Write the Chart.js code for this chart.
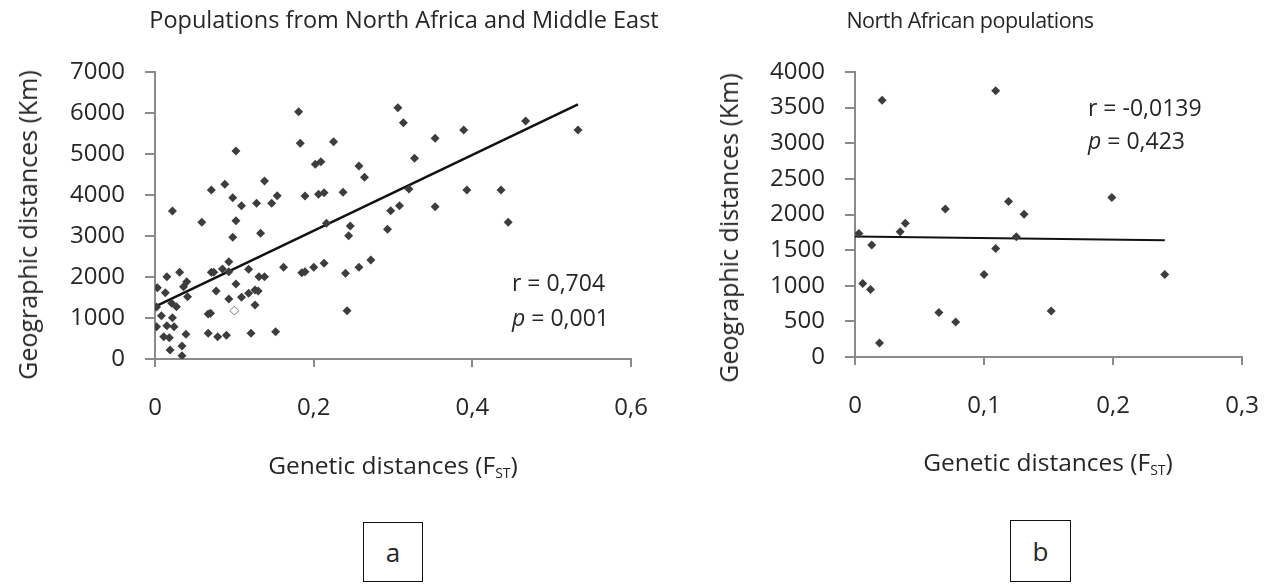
<!DOCTYPE html>
<html>
<head>
<meta charset="utf-8">
<script src="https://cdn.jsdelivr.net/npm/chart.js@4.4.0/dist/chart.umd.min.js"></script>
<style>
  body { margin: 0; background: #fff; width: 1270px; height: 588px; overflow: hidden; position: relative;
         font-family: 'Open Sans', sans-serif; color: #262626; }
  canvas { position: absolute; top: 0; }
  .txt { position: absolute; white-space: nowrap; transform: translate(-50%, -50%); }
  .axt { font-size: 24.5px; }
  .yt { font-size: 25px; transform: translate(-50%, -50%) rotate(-90deg); }
  .stat { position: absolute; white-space: nowrap; font-size: 23px; transform: translateY(-50%); }
  .box { position: absolute; border: 1.5px solid #111; box-sizing: border-box; font-size: 26px;
         display: flex; align-items: center; justify-content: center; }
  sub { font-size: 14px; vertical-align: -4px; }
</style>
</head>
<body>
<canvas id="chartA" width="675" height="500" style="left:0px"></canvas>
<canvas id="chartB" width="626" height="500" style="left:660px"></canvas>

<div class="txt" style="left:404px; top:19px; font-size:23.5px">Populations from North Africa and Middle East</div>
<div class="txt" style="left:970px; top:19px; font-size:21.5px; letter-spacing:-0.5px">North African populations</div>

<div class="txt yt" style="left:27px; top:225px">Geographic distances (Km)</div>
<div class="txt yt" style="left:728px; top:228px">Geographic distances (Km)</div>

<div class="txt axt" style="left:393px; top:465px">Genetic distances (F<sub>ST</sub>)</div>
<div class="txt axt" style="left:1048px; top:462px">Genetic distances (F<sub>ST</sub>)</div>

<div class="stat" style="left:512px; top:282px">r = 0,704</div>
<div class="stat" style="left:512px; top:317px"><i>p</i> = 0,001</div>
<div class="stat" style="left:1088px; top:107px">r = -0,0139</div>
<div class="stat" style="left:1088px; top:140px"><i>p</i> = 0,423</div>

<div class="box" style="left:363px; top:522px; width:60px; height:60px">a</div>
<div class="box" style="left:1010px; top:520px; width:61px; height:62px">b</div>

<script>
// Panel a: North Africa + Middle East pairwise distances
const leftFst = [0.181, 0.183, 0.225, 0.102, 0.202, 0.209, 0.257, 0.264, 0.138, 0.088, 0.071, 0.098, 0.154, 0.189,
  0.206, 0.213, 0.237, 0.128, 0.109, 0.147, 0.022, 0.059, 0.102, 0.133, 0.098, 0.246, 0.244, 0.216, 0.093, 0.071,
  0.074, 0.085, 0.118, 0.131, 0.138, 0.162, 0.185, 0.189, 0.200, 0.213, 0.240, 0.257, 0.272, 0.242, 0.152, 0.121,
  0.090, 0.079, 0.067, 0.067, 0.070, 0.077, 0.093, 0.102, 0.109, 0.118, 0.126, 0.130, 0.126, 0.093, 0.003, 0.015,
  0.031, 0.013, 0.036, 0.040, 0.041, 0.021, 0.027, 0.008, 0.022, 0.002, 0.015, 0.024, 0.011, 0.018, 0.039, 0.019,
  0.034, 0.034, 0.002, 0.306, 0.313, 0.353, 0.389, 0.467, 0.533, 0.327, 0.320, 0.297, 0.308, 0.353, 0.293, 0.393,
  0.436, 0.445];
const leftKm = [6032, 5260, 5301, 5073, 4748, 4813, 4707, 4431, 4341, 4260, 4122, 3935, 3984, 3976,
  4016, 4057, 4065, 3797, 3740, 3797, 3610, 3333, 3374, 3065, 2967, 3244, 3008, 3309, 2374, 2114,
  2114, 2195, 2187, 2008, 2008, 2236, 2106, 2130, 2236, 2333, 2089, 2236, 2415, 1179, 667, 626,
  577, 545, 626, 1098, 1114, 1659, 1463, 1829, 1504, 1602, 1683, 1659, 1317, 2130, 1740, 2008,
  2114, 1618, 1764, 1886, 1520, 1358, 1276, 1057, 1008, 789, 813, 789, 545, 520, 602, 220,
  317, 81, 1268, 6130, 5764, 5382, 5585, 5805, 5585, 4894, 4146, 3618, 3740, 3715, 3163, 4122,
  4122, 3333];
const leftOpenFst = [0.100];
const leftOpenKm = [1179];
const leftFitFst = [0, 0.533];
const leftFitKm = [1276, 6211];
const leftXTicks = [0, 0.2, 0.4, 0.6];
const leftYTicks = [0, 1000, 2000, 3000, 4000, 5000, 6000, 7000];

// Panel b: North African populations only
const rightFst = [0.003, 0.021, 0.109, 0.013, 0.035, 0.039, 0.070, 0.119, 0.131, 0.125, 0.109, 0.100, 0.006,
  0.012, 0.065, 0.078, 0.019, 0.199, 0.240, 0.152];
const rightKm = [1735, 3602, 3738, 1571, 1759, 1876, 2078, 2181, 2003, 1688, 1524, 1158, 1032,
  947, 624, 492, 197, 2237, 1158, 647];
const rightFitFst = [0, 0.24];
const rightFitKm = [1690, 1640];
const rightXTicks = [0, 0.1, 0.2, 0.3];
const rightYTicks = [0, 500, 1000, 1500, 2000, 2500, 3000, 3500, 4000];

const pointColor = '#3d3d3d';
const axisColor = '#8a8a8a';
const tickFont = { family: "'Open Sans', sans-serif", size: 24 };

function toXY(xs, ys) {
    return xs.map(function (x, i) { return { x: x, y: ys[i] }; });
}

// decimal comma, no thousands separator
function plain(v) {
    return String(v).replace('.', ',');
}

function makePanel(id, o) {
    const canvas = document.getElementById(id);
    if (!canvas) return;
    const ctx = canvas.getContext('2d');
    const datasets = [{
        data: toXY(o.xs, o.ys),
        pointStyle: 'rectRot',
        pointRadius: 4.5,
        backgroundColor: pointColor,
        borderColor: pointColor,
        borderWidth: 0
    }];
    if (o.openXs) {
        datasets.push({
            data: toXY(o.openXs, o.openYs),
            pointStyle: 'rectRot',
            pointRadius: 4.5,
            backgroundColor: '#fff',
            borderColor: '#777',
            borderWidth: 1
        });
    }
    datasets.push({
        data: toXY(o.fitXs, o.fitYs),
        showLine: true,
        borderColor: '#111',
        borderWidth: o.fitWidth,
        pointRadius: 0,
        fill: false
    });

    new Chart(ctx, {
        type: 'scatter',
        data: { datasets: datasets },
        options: {
            responsive: false,
            animation: false,
            layout: { padding: o.padding },
            plugins: { legend: { display: false }, tooltip: { enabled: false } },
            scales: {
                x: {
                    type: 'linear',
                    min: o.xTicks[0],
                    max: o.xTicks[o.xTicks.length - 1],
                    afterBuildTicks: function (s) { s.ticks = o.xTicks.map(function (v) { return { value: v }; }); },
                    afterFit: function (s) { s.height = 60; },
                    border: { display: true, color: axisColor, width: 2 },
                    grid: { drawOnChartArea: false, drawTicks: true, tickLength: 8, color: axisColor, lineWidth: 2 },
                    ticks: { color: '#262626', font: tickFont, padding: 27, maxRotation: 0, callback: plain }
                },
                y: {
                    type: 'linear',
                    min: o.yTicks[0],
                    max: o.yTicks[o.yTicks.length - 1],
                    afterBuildTicks: function (s) { s.ticks = o.yTicks.map(function (v) { return { value: v }; }); },
                    afterFit: function (s) { s.width = o.yWidth; },
                    border: { display: true, color: axisColor, width: 2 },
                    grid: { drawOnChartArea: false, drawTicks: true, tickLength: 10, color: axisColor, lineWidth: 2 },
                    ticks: { color: '#262626', font: tickFont, padding: 20, callback: plain }
                }
            }
        }
    });
}

makePanel('chartA', {
    xs: leftFst, ys: leftKm, openXs: leftOpenFst, openYs: leftOpenKm,
    fitXs: leftFitFst, fitYs: leftFitKm, fitWidth: 2.5,
    xTicks: leftXTicks, yTicks: leftYTicks, yWidth: 155,
    padding: { left: 0, top: 72, right: 0, bottom: 81 }
});

makePanel('chartB', {
    xs: rightFst, ys: rightKm,
    fitXs: rightFitFst, fitYs: rightFitKm, fitWidth: 2,
    xTicks: rightXTicks, yTicks: rightYTicks, yWidth: 195,
    padding: { left: 0, top: 72, right: 0, bottom: 83 }
});
</script>
</body>
</html>
